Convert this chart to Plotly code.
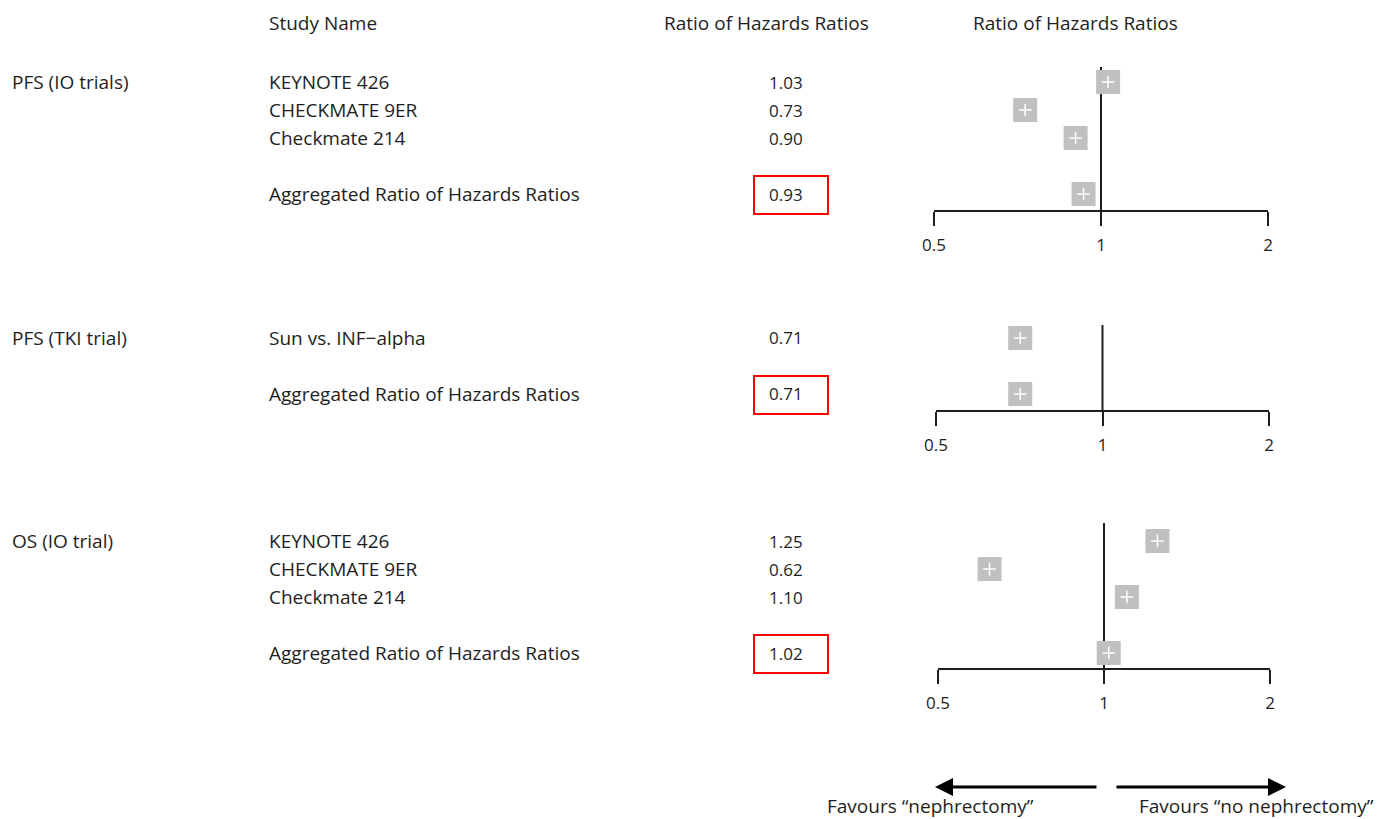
import math
import plotly.graph_objects as go

# ---------------- data ----------------
group_labels = ["PFS (IO trials)", "PFS (TKI trial)", "OS (IO trial)"]
pfs_io_studies = ["KEYNOTE 426", "CHECKMATE 9ER", "Checkmate 214"]
pfs_io_ratios = [1.03, 0.73, 0.90]
pfs_io_aggregate = 0.93
pfs_tki_studies = ["Sun vs. INF−alpha"]
pfs_tki_ratios = [0.71]
pfs_tki_aggregate = 0.71
os_io_studies = ["KEYNOTE 426", "CHECKMATE 9ER", "Checkmate 214"]
os_io_ratios = [1.25, 0.62, 1.10]
os_io_aggregate = 1.02
aggregate_label = "Aggregated Ratio of Hazards Ratios"
tick_values = [0.5, 1, 2]
tick_labels = ["0.5", "1", "2"]
header_labels = ["Study Name", "Ratio of Hazards Ratios", "Ratio of Hazards Ratios"]
favour_labels = ["Favours “nephrectomy”", "Favours “no nephrectomy”"]

panels = [
    (group_labels[0], pfs_io_studies, pfs_io_ratios, pfs_io_aggregate),
    (group_labels[1], pfs_tki_studies, pfs_tki_ratios, pfs_tki_aggregate),
    (group_labels[2], os_io_studies, os_io_ratios, os_io_aggregate),
]

# ---------------- layout (pixels) ----------------
W, H = 1381, 819
ROW = 28.0
panel_px = [
    dict(x0=934, x1=1268, row0=82, axis=210, top=67),
    dict(x0=936, x1=1269, row0=338, axis=410, top=325),
    dict(x0=938, x1=1270, row0=541, axis=668, top=523),
]
FONT = "Open Sans, Liberation Sans, sans-serif"
TXT = "#1e1e1e"
FS = 19
FS_NUM = 17
X_GROUP, X_STUDY, X_VALUE = 10, 267, 786
BOX_X0, BOX_X1, BOX_H = 754, 828, 38

fig = go.Figure()
annotations = []
shapes = []
layout_axes = {}

for i, ((glabel, studies, ratios, agg), px) in enumerate(zip(panels, panel_px)):
    n = i + 1
    xa = "x" if n == 1 else f"x{n}"
    ya = "y" if n == 1 else f"y{n}"
    rows = list(range(len(studies))) + [len(studies) + 1]
    vals = list(ratios) + [agg]
    y_bottom = (px["axis"] - px["row0"]) / ROW
    y_top = (px["top"] - px["row0"]) / ROW

    # reference line at 1
    fig.add_trace(go.Scatter(x=[1, 1], y=[y_top, y_bottom], mode="lines",
                             line=dict(color="#1e1e1e", width=2),
                             xaxis=xa, yaxis=ya, hoverinfo="skip", showlegend=False,
                             cliponaxis=False))
    # squares
    fig.add_trace(go.Scatter(x=vals, y=rows, mode="markers",
                             marker=dict(symbol="square", size=24, color="#c0c0c0",
                                         line=dict(width=0)),
                             xaxis=xa, yaxis=ya, showlegend=False, cliponaxis=False))
    # white crosses
    fig.add_trace(go.Scatter(x=vals, y=rows, mode="markers",
                             marker=dict(symbol="cross-thin", size=9, color="white",
                                         line=dict(color="white", width=1.5)),
                             xaxis=xa, yaxis=ya, showlegend=False, cliponaxis=False,
                             hoverinfo="skip"))

    xkey = "xaxis" if n == 1 else f"xaxis{n}"
    ykey = "yaxis" if n == 1 else f"yaxis{n}"
    layout_axes[xkey] = dict(
        type="log", domain=[px["x0"] / W, px["x1"] / W],
        range=[math.log10(tick_values[0]), math.log10(tick_values[-1])],
        anchor=ya, showline=True, linecolor="#1e1e1e", linewidth=2,
        ticks="outside", ticklen=14, tickwidth=2, tickcolor="#1e1e1e",
        tickvals=tick_values, ticktext=tick_labels, ticklabelstandoff=5,
        tickfont=dict(family=FONT, size=FS_NUM, color=TXT),
        showgrid=False, zeroline=False, fixedrange=True, automargin=False,
    )
    layout_axes[ykey] = dict(
        domain=[1 - px["axis"] / H, 1 - px["top"] / H],
        range=[y_bottom, y_top], anchor=xa, visible=False,
        showgrid=False, zeroline=False, fixedrange=True, automargin=False,
    )

    # text columns
    annotations.append(dict(x=X_GROUP / W, y=0, xref="paper", yref=ya, text=glabel,
                            showarrow=False, xanchor="left", yanchor="middle"))
    labels = list(studies) + [aggregate_label]
    for r, lab, v in zip(rows, labels, vals):
        annotations.append(dict(x=X_STUDY / W, y=r, xref="paper", yref=ya, text=lab,
                                showarrow=False, xanchor="left", yanchor="middle"))
        annotations.append(dict(x=X_VALUE / W, y=r, xref="paper", yref=ya,
                                text=f"{v:.2f}", showarrow=False,
                                font=dict(size=FS_NUM),
                                xanchor="center", yanchor="middle"))
    # red box round the aggregate value
    agg_py = px["row0"] + rows[-1] * ROW + 1
    shapes.append(dict(type="rect", xref="paper", yref="paper",
                       x0=BOX_X0 / W, x1=BOX_X1 / W,
                       y0=1 - (agg_py + BOX_H / 2) / H, y1=1 - (agg_py - BOX_H / 2) / H,
                       line=dict(color="#ff0000", width=2), fillcolor="rgba(0,0,0,0)"))

# headers
annotations.append(dict(x=267 / W, y=1 - 23 / H, xref="paper", yref="paper",
                        text=header_labels[0], showarrow=False,
                        xanchor="left", yanchor="middle"))
annotations.append(dict(x=766 / W, y=1 - 23 / H, xref="paper", yref="paper",
                        text=header_labels[1], showarrow=False,
                        xanchor="center", yanchor="middle"))
annotations.append(dict(x=1075 / W, y=1 - 23 / H, xref="paper", yref="paper",
                        text=header_labels[2], showarrow=False,
                        xanchor="center", yanchor="middle"))

# direction arrows
ARROW_Y = 1 - 787 / H
annotations.append(dict(x=935 / W, y=ARROW_Y, xref="paper", yref="paper", text="",
                        showarrow=True, ax=1098 - 935, ay=0, arrowhead=2,
                        arrowsize=1.2, arrowwidth=3, arrowcolor="#000000"))
annotations.append(dict(x=1286 / W, y=ARROW_Y, xref="paper", yref="paper", text="",
                        showarrow=True, ax=1115 - 1286, ay=0, arrowhead=2,
                        arrowsize=1.2, arrowwidth=3, arrowcolor="#000000"))
annotations.append(dict(x=826 / W, y=1 - 806 / H, xref="paper", yref="paper",
                        text=favour_labels[0], showarrow=False, borderpad=0,
                        xanchor="left", yanchor="middle"))
annotations.append(dict(x=1138 / W, y=1 - 806 / H, xref="paper", yref="paper",
                        text=favour_labels[1], showarrow=False, borderpad=0,
                        xanchor="left", yanchor="middle"))

fig.update_layout(
    width=W, height=H,
    margin=dict(l=0, r=0, t=0, b=0, pad=0, autoexpand=False),
    paper_bgcolor="white", plot_bgcolor="white",
    font=dict(family=FONT, size=FS, color=TXT),
    showlegend=False,
    annotations=annotations,
    shapes=shapes,
    **layout_axes,
)

fig.write_html("out.html", config={"displayModeBar": False},
               post_script="document.body.style.margin='0px';document.body.style.overflow='hidden';")
